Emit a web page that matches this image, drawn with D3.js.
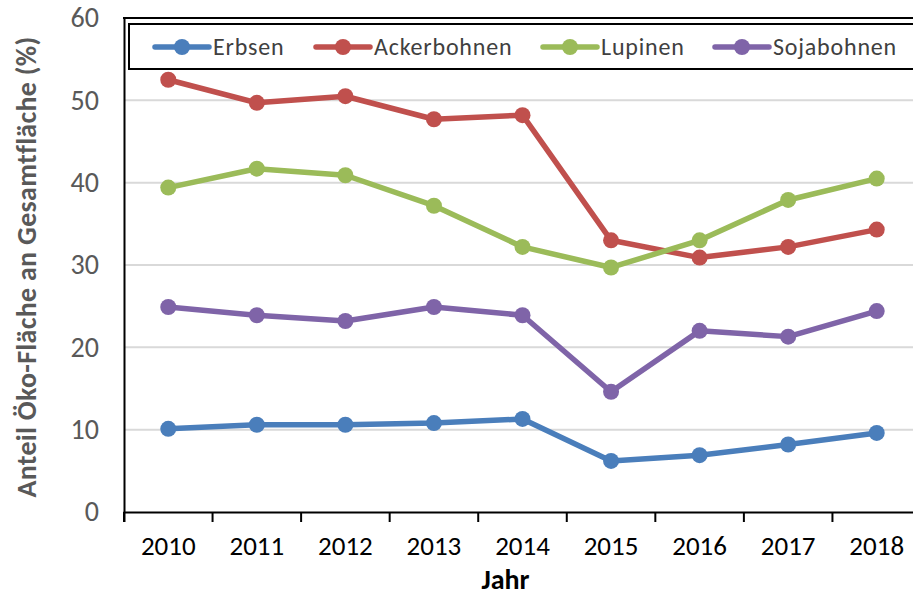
<!DOCTYPE html>
<html>
<head>
<meta charset="utf-8">
<script src="https://cdnjs.cloudflare.com/ajax/libs/d3/7.8.5/d3.min.js"></script>
<style>
  body { margin: 0; background: #fff; }
  svg text { font-family: Calibri, Carlito, Lato, sans-serif; }
</style>
</head>
<body>
<div class="canvas"></div>
<script>
// data
const years = ["2010", "2011", "2012", "2013", "2014", "2015", "2016", "2017", "2018"];
const erbsen = [10.1, 10.6, 10.6, 10.8, 11.3, 6.2, 6.9, 8.2, 9.6];
const ackerbohnen = [52.5, 49.7, 50.5, 47.7, 48.2, 33.0, 30.9, 32.2, 34.3];
const lupinen = [39.4, 41.7, 40.9, 37.2, 32.2, 29.7, 33.0, 37.9, 40.5];
const sojabohnen = [24.9, 23.9, 23.2, 24.9, 23.9, 14.6, 22.0, 21.3, 24.4];
const yTicks = [0, 10, 20, 30, 40, 50, 60];

const series = [
  { name: "Erbsen", values: erbsen, color: "#4a7ebb" },
  { name: "Ackerbohnen", values: ackerbohnen, color: "#c0504d" },
  { name: "Lupinen", values: lupinen, color: "#9bbb59" },
  { name: "Sojabohnen", values: sojabohnen, color: "#7f64a8" }
];

const width = 913, height = 599;
const margin = { top: 18, left: 124, bottom: 87 };
const plotRight = 921;
const plotBottom = height - margin.bottom;

const svg = d3.select(".canvas")
  .append("svg")
  .attr("width", width)
  .attr("height", height);

// scales
const x = d3.scaleBand().domain(years).range([margin.left, plotRight]);
const y = d3.scaleLinear().domain([0, 60]).range([plotBottom, margin.top]);

// gridlines
svg.append("g")
  .selectAll("line")
  .data(yTicks.filter(d => d > 0 && d < 60))
  .join("line")
    .attr("x1", margin.left)
    .attr("x2", plotRight)
    .attr("y1", d => y(d))
    .attr("y2", d => y(d))
    .attr("stroke", "#d9d9d9")
    .attr("stroke-width", 2);

// plot frame top
svg.append("line")
  .attr("x1", margin.left - 1).attr("x2", plotRight)
  .attr("y1", y(60)).attr("y2", y(60))
  .attr("stroke", "#000").attr("stroke-width", 2);

// axes
const xAxis = d3.axisBottom(x).tickSize(10).tickSizeOuter(10).tickPadding(14);
const xAxisGroup = svg.append("g")
  .attr("transform", `translate(0,${plotBottom})`)
  .call(xAxis);
xAxisGroup.select(".domain").attr("stroke", "#000").attr("stroke-width", 2);
// ticks on band edges rather than centers
xAxisGroup.selectAll(".tick line")
  .attr("x1", -x.bandwidth() / 2).attr("x2", -x.bandwidth() / 2)
  .attr("stroke", "#000").attr("stroke-width", 2);
xAxisGroup.selectAll("text")
  .attr("font-size", 27).attr("fill", "#000");

const yAxis = d3.axisLeft(y).tickValues(yTicks).tickSize(0).tickPadding(25);
const yAxisGroup = svg.append("g")
  .attr("transform", `translate(${margin.left},0)`)
  .call(yAxis);
yAxisGroup.select(".domain").attr("stroke", "#000").attr("stroke-width", 2);
yAxisGroup.selectAll("text")
  .attr("font-size", 28).attr("fill", "#595959");

// axis titles
svg.append("text")
  .attr("x", (margin.left + plotRight) / 2 - 17)
  .attr("y", 589)
  .attr("text-anchor", "middle")
  .attr("font-size", 28)
  .attr("font-weight", "bold")
  .attr("fill", "#000")
  .text("Jahr");

svg.append("text")
  .attr("transform", `translate(36,${(margin.top + plotBottom) / 2 + 2}) rotate(-90)`)
  .attr("text-anchor", "middle")
  .attr("font-size", 28)
  .attr("font-weight", "bold")
  .attr("letter-spacing", 0.3)
  .attr("fill", "#595959")
  .text("Anteil Öko-Fläche an Gesamtfläche (%)");

// lines and points
const line = d3.line()
  .x((d, i) => x(years[i]) + x.bandwidth() / 2)
  .y(d => y(d));

const seriesGroups = svg.append("g")
  .selectAll("g")
  .data(series)
  .join("g");

seriesGroups.append("path")
  .attr("d", d => line(d.values))
  .attr("fill", "none")
  .attr("stroke", d => d.color)
  .attr("stroke-width", 5.5)
  .attr("stroke-linejoin", "round");

seriesGroups.selectAll("circle")
  .data(d => d.values.map((v, i) => ({ v, i, color: d.color })))
  .join("circle")
    .attr("cx", d => x(years[d.i]) + x.bandwidth() / 2)
    .attr("cy", d => y(d.v))
    .attr("r", 8)
    .attr("fill", d => d.color);

// legend
const legend = svg.append("g");
legend.append("rect")
  .attr("x", 129).attr("y", 24)
  .attr("width", 800).attr("height", 45)
  .attr("fill", "#fff")
  .attr("stroke", "#000")
  .attr("stroke-width", 2);

const legendX = [155, 316, 543, 715];
const items = legend.selectAll("g.item")
  .data(series)
  .join("g")
    .attr("class", "item")
    .attr("transform", (d, i) => `translate(${legendX[i]},47)`);

items.append("line")
  .attr("x1", 0).attr("x2", 54)
  .attr("stroke", d => d.color)
  .attr("stroke-width", 5.5)
  .attr("stroke-linecap", "round");

items.append("circle")
  .attr("cx", 27).attr("r", 8)
  .attr("fill", d => d.color);

items.append("text")
  .attr("x", 58)
  .attr("dy", "0.35em")
  .attr("font-size", 24)
  .attr("letter-spacing", 0.8)
  .attr("fill", "#404040")
  .text(d => d.name);
</script>
</body>
</html>
